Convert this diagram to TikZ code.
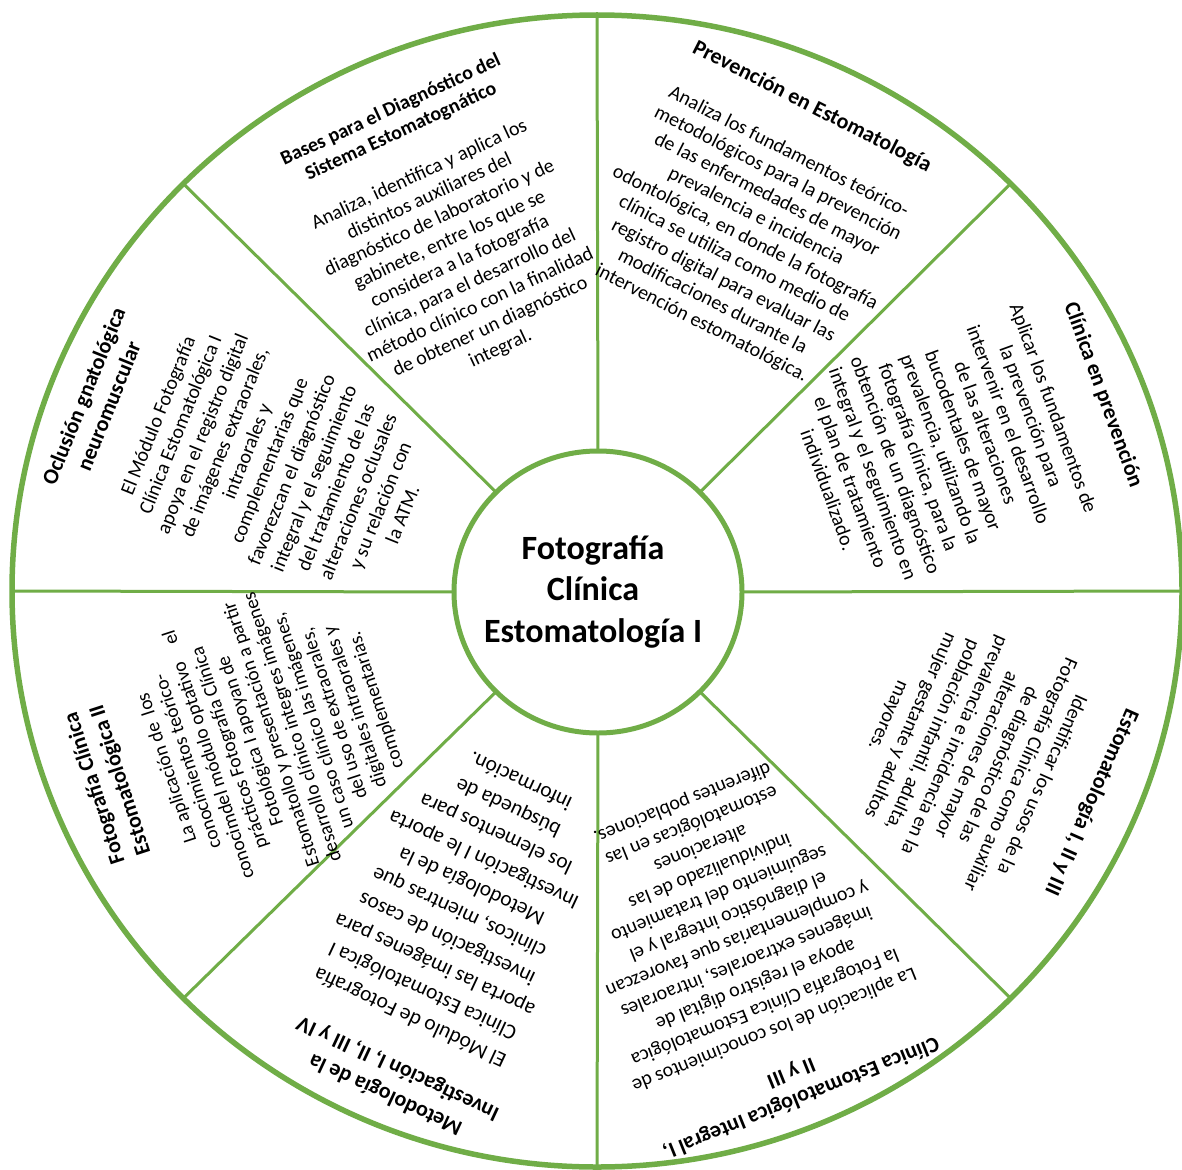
\documentclass[tikz,border=0pt]{standalone}
\usepackage{fontspec}
\setmainfont{Carlito}
\usetikzlibrary{calc}
\definecolor{leaf}{HTML}{70AD47}
\tikzset{
  ring/.style={draw=leaf, line width=5.5pt},
  hub/.style={draw=leaf, line width=5pt, fill=white},
  spoke/.style={draw=leaf, line width=3pt},
  body/.style={align=center, inner sep=0pt, font=\fontsize{20}{24}\selectfont},
  head/.style={align=center, inner sep=0pt, font=\fontsize{22}{27}\selectfont\bfseries},
}
\begin{document}
\begin{tikzpicture}[x=1pt,y=-1pt]
\useasboundingbox (0,0) rectangle (1182,1169);
\fill[white] (0,0) rectangle (1182,1169);
\coordinate (c) at (597,591);
\coordinate (h) at (598,592);
\foreach \a in {0,45,...,315}
  \draw[spoke] ($(h)+(\a:140 and 137)$) -- ($(c)+(\a:585 and 576)$);
\draw[ring] (c) ellipse [x radius=585, y radius=576];
\draw[hub] (h) ellipse [x radius=144, y radius=141];
\node[align=center, inner sep=0pt, font=\fontsize{34}{41.5}\selectfont\bfseries] (hubtext) at (593,592) {Fotografía\\Clínica\\Estomatología I};

% Bases
\node[head, font=\fontsize{20}{24}\selectfont\bfseries, rotate=25] (t1) at (396,121) {Bases para el Diagnóstico del\\Sistema Estomatognático};
\node[body, rotate=25] (b1) at (460,262) {Analiza, identifica y aplica los\\distintos auxiliares del\\diagnóstico de laboratorio y de\\gabinete, entre los que se\\considera a la fotografía\\clínica, para el desarrollo del\\método clínico con la finalidad\\de obtener un diagnóstico\\integral.};

% Prevencion
\node[head, rotate=-27] (t2) at (812,107) {Prevención en Estomatología};
\node[body, rotate=-27] (b2) at (745,238) {Analiza los fundamentos teórico-\\metodológicos para la prevención\\de las enfermedades de mayor\\prevalencia e incidencia\\odontológica, en donde la fotografía\\clínica se utiliza como medio de\\registro digital para evaluar las\\modificaciones durante la\\intervención estomatológica.};

% Clinica en prevencion
\node[head, rotate=-70] (t3) at (1103,395) {Clínica en prevención};
\node[body, rotate=-70] (b3) at (941,449) {Aplicar los fundamentos de\\la prevención para\\intervenir en el desarrollo\\de las alteraciones\\bucodentales de mayor\\prevalencia, utilizando la\\fotografía clínica, para la\\obtención de un diagnóstico\\integral y el seguimiento en\\el plan de tratamiento\\individualizado.};

% Estomatologia I II y III
\node[head, rotate=-114] (t4) at (1091,802) {Estomatología I, II y III};
\node[body, rotate=-114] (b4) at (965,750) {Identificar los usos de la\\Fotografía Clínica como auxiliar\\de diagnóstico de las\\alteraciones de mayor\\prevalencia e incidencia en la\\población infantil, adulta,\\mujer gestante y adultos\\mayores.};

% Clinica Estomatologica Integral
\node[head, rotate=202] (t5) at (796,1085) {Clínica Estomatológica Integral I,\\II y III};
\node[body, font=\fontsize{20}{24.5}\selectfont, rotate=202] (b5) at (728,916) {La aplicación de los conocimientos de\\la Fotografía Clínica Estomatológica\\apoya el registro digital de\\imágenes extraorales, intraorales\\y complementarias que favorezcan\\el diagnóstico integral y el\\seguimiento del tratamiento\\individualizado de las\\alteraciones\\estomatológicas en las\\diferentes poblaciones.};

% Metodologia
\node[head, font=\fontsize{22}{29}\selectfont\bfseries, rotate=155] (t6) at (392,1081) {Metodología de la\\Investigación I, II, III y IV};
\node[body, font=\fontsize{21.5}{29}\selectfont, rotate=155] (b6) at (465,900) {El Módulo de Fotografía\\Clínica Estomatológica I\\aporta las imágenes para\\investigación de casos\\clínicos, mientras que\\Metodología de la\\Investigación I le aporta\\los elementos para\\búsqueda de\\información.};

% Fotografia Clinica Estomatologica II
\node[head, rotate=108] (t7) at (108,784) {Fotografía Clínica\\Estomatológica II};
\node[body, font=\fontsize{19.5}{22}\selectfont, rotate=108] (b7) at (272,734) {La aplicación de\ \ los\\conocimientos teórico-\\conocimdel módulo optativo\quad el\\prácticos Fotografía Clínica\\Fotológica I apoyan de\\Estomatollo y presentación a partir\\desarrollo clínico integres imágenes\\un caso clínico las imágenes,\\del uso de extraorales,\\digitales intraorales y\\complementarias.};

% Oclusion
\node[head, rotate=68] (t8) at (96,401) {Oclusión gnatológica\\neuromuscular};
\node[body, rotate=68] (b8) at (280,465) {El Módulo Fotografía\\Clínica Estomatológica I\\apoya en el registro digital\\de imágenes extraorales,\\intraorales y\\complementarias que\\favorezcan el diagnóstico\\integral y el seguimiento\\del tratamiento de las\\alteraciones oclusales\\y su relación con\\la ATM.};
\end{tikzpicture}
\end{document}
